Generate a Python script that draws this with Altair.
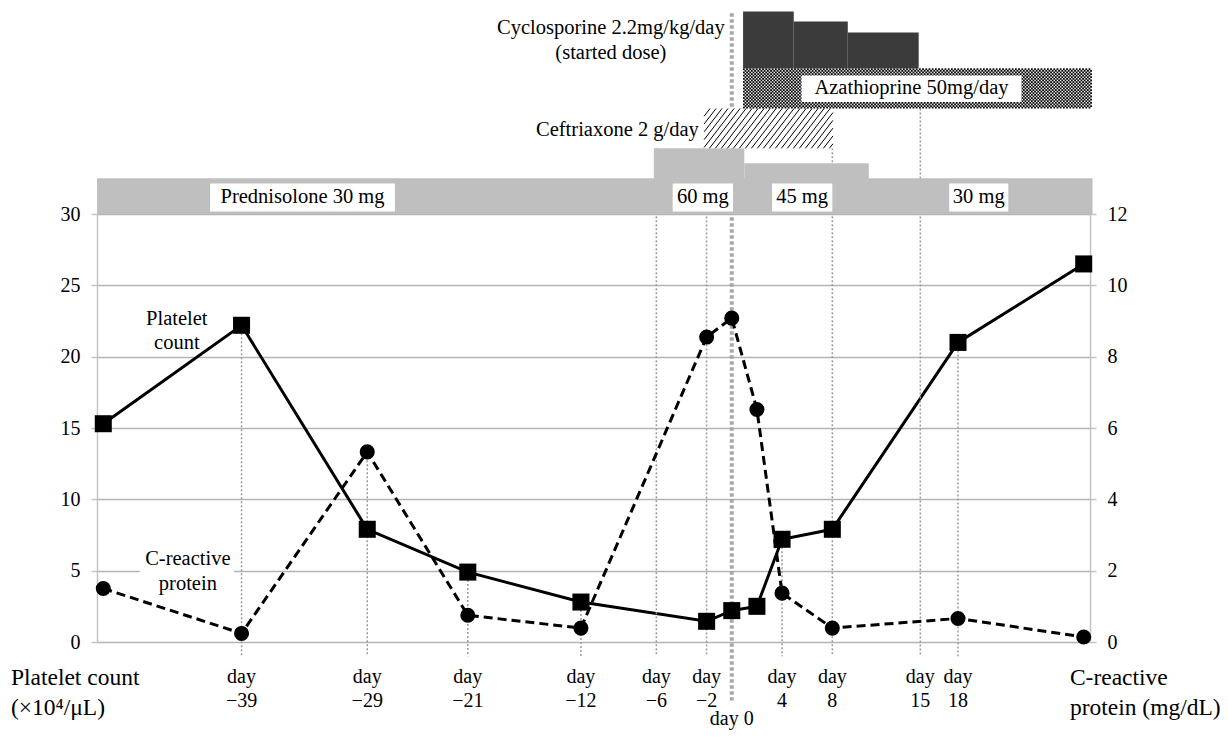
import altair as alt
import pandas as pd

FONT = "Liberation Serif"

# ---------------- values ----------------
days = [-50, -39, -29, -21, -12, -2, 0, 2, 4, 8, 18, 28]
platelet = [15.3, 22.2, 7.9, 4.9, 2.8, 1.45, 2.2, 2.5, 7.2, 7.9, 21.0, 26.5]
crp = [1.5, 0.24, 5.33, 0.75, 0.39, 8.55, 9.08, 6.52, 1.37, 0.39, 0.66, 0.14]

tick_days = [-39, -29, -21, -12, -6, -2, 4, 8, 15, 18]
tick_text = ["−39", "−29", "−21", "−12", "−6", "−2", "4", "8", "15", "18"]
guide_top = [22.2, 13.3, 4.9, 2.8, 34.6, 37.4, 7.2, 34.6, 37.4, 21.0]

# prednisolone dose bands (days, upper edge in platelet-axis units)
pred_start = [-50.5, -6.2, 1.0]
pred_end = [28.7, 1.0, 10.9]
pred_top = [32.5, 34.6, 33.55]
pred_labels = ["Prednisolone 30 mg", "60 mg", "45 mg", "30 mg"]
pred_label_from = [-41.5, -4.7, 3.2, 17.3]
pred_label_to = [-26.8, 0.1, 8.0, 22.0]

# cyclosporine steps
cyclo_start = [0.9, 4.93, 9.23]
cyclo_end = [4.93, 9.23, 14.87]
cyclo_top = [44.2, 43.5, 42.73]

# ceftriaxone and azathioprine periods
ceftri_days = [-2.2, 8.05]
aza_days = [0.9, 28.7]

# ---------------- layout helpers ----------------
XMIN, XMAX = -50.5, 28.5
W, H = 993, 428
KX = W / (XMAX - XMIN)
KY = H / 30.0

XS = alt.Scale(domain=[XMIN, XMAX], nice=False, zero=False)
YL = alt.Scale(domain=[0, 30], nice=False, zero=False)
YR = alt.Scale(domain=[0, 12], nice=False, zero=False)


def X(f):
    return alt.X(f, type="quantitative", scale=XS, axis=None)


def Y(f, axis=None):
    return alt.Y(f, type="quantitative", scale=YL, axis=axis)


def hatch(x0, x1, y0, y1, spacing=6.0, slope=1.3):
    wp, hp = (x1 - x0) * KX, (y1 - y0) * KY
    rows = []
    c = -hp / slope
    while c < wp:
        u0 = max(0.0, c)
        u1 = min(wp, c + hp / slope)
        rows.append(dict(x=x0 + u0 / KX, y=y0 + (u0 - c) * slope / KY,
                         x2=x0 + u1 / KX, y2=y0 + (u1 - c) * slope / KY))
        c += spacing
    return pd.DataFrame(rows)


def dots(x0, x1, y0, y1, step=3.2):
    wp, hp = (x1 - x0) * KX, (y1 - y0) * KY
    rows = []
    j = 0
    v = step / 4
    while v < hp:
        u = (step / 2 if j % 2 else 0) + step / 4
        while u < wp:
            rows.append(dict(x=x0 + u / KX, y=y0 + v / KY))
            u += step
        v += step / 2
        j += 1
    return pd.DataFrame(rows)


# ---------------- tables ----------------
series = pd.DataFrame({"day": days, "platelet": platelet, "crp": crp})
guides = pd.DataFrame({"day": tick_days, "top": guide_top, "bottom": [-1.0] * len(tick_days)})
day0 = pd.DataFrame({"day": [0], "top": [44.07], "bottom": [-4.1]})
bands = pd.DataFrame({"x": pred_start, "x2": pred_end, "y": [30.0] * 3, "y2": pred_top})
cyclo = pd.DataFrame({"x": cyclo_start, "x2": cyclo_end, "y": [40.2] * 3, "y2": cyclo_top})
ceftri_bg = pd.DataFrame({"x": [ceftri_days[0]], "x2": [ceftri_days[1]], "y": [34.6], "y2": [37.4]})
hatch_df = hatch(ceftri_days[0], ceftri_days[1], 34.6, 37.4)
dots_df = dots(aza_days[0], aza_days[1], 37.4, 40.2)

boxes = pd.DataFrame({
    "x": pred_label_from + [5.55, -47.1],
    "x2": pred_label_to + [23.05, -39.6],
    "y": [30.18] * 4 + [37.85, 3.2],
    "y2": [32.14] * 4 + [39.7, 6.7],
})

center_text = pd.DataFrame({
    "x": [(a + b) / 2 for a, b in zip(pred_label_from, pred_label_to)]
         + [14.3, -9.62, -9.62, -44.15, -44.15, -43.27, -43.27],
    "y": [31.17] * 4 + [38.81, 43.01, 41.26, 22.61, 20.94, 5.80, 4.04],
    "t": pred_labels + ["Azathioprine 50mg/day", "Cyclosporine 2.2mg/kg/day",
                        "(started dose)", "Platelet", "count", "C-reactive", "protein"],
})
day_text = pd.DataFrame({
    "x": tick_days + tick_days + [0],
    "y": [-2.47] * len(tick_days) + [-4.16] * len(tick_days) + [-5.4],
    "t": ["day"] * len(tick_days) + tick_text + ["day 0"],
})
right_text = pd.DataFrame({"x": [-2.62], "y": [35.86], "t": ["Ceftriaxone 2 g/day"]})
corner_text = pd.DataFrame({
    "x": [-57.35, -57.35, 26.9, 26.9],
    "y": [-2.54, -4.65, -2.54, -4.65],
    "t": ["Platelet count", "(×10⁴/μL)", "C-reactive", "protein (mg/dL)"],
})

# ---------------- layers ----------------
guide_layer = alt.Chart(guides).mark_rule(color="#9a9a9a", strokeWidth=1.5, strokeDash=[2, 2]).encode(
    x=X("day"), y=Y("top"), y2="bottom")
day0_layer = alt.Chart(day0).mark_rule(color="#a8a8a8", strokeWidth=4, strokeDash=[3.5, 2.5]).encode(
    x=X("day"), y=Y("top"), y2="bottom")
band_layer = alt.Chart(bands).mark_rect(color="#bfbfbf").encode(
    x=X("x"), x2="x2", y=Y("y"), y2="y2")
ceftri_bg_layer = alt.Chart(ceftri_bg).mark_rect(color="white").encode(
    x=X("x"), x2="x2", y=Y("y"), y2="y2")
hatch_layer = alt.Chart(hatch_df).mark_rule(color="black", strokeWidth=1.0).encode(
    x=X("x"), x2="x2", y=Y("y"), y2="y2")
dots_layer = alt.Chart(dots_df).mark_square(color="black", size=3.2, opacity=1, strokeWidth=0).encode(
    x=X("x"), y=Y("y"))
cyclo_layer = alt.Chart(cyclo).mark_rect(color="#3b3b3b").encode(
    x=X("x"), x2="x2", y=Y("y"), y2="y2")
box_layer = alt.Chart(boxes).mark_rect(color="white").encode(
    x=X("x"), x2="x2", y=Y("y"), y2="y2")
ctext_layer = alt.Chart(center_text).mark_text(
    font=FONT, fontSize=20.5, color="black", align="center", baseline="middle").encode(
    x=X("x"), y=Y("y"), text="t:N")
dtext_layer = alt.Chart(day_text).mark_text(
    font=FONT, fontSize=20, color="black", align="center", baseline="middle").encode(
    x=X("x"), y=Y("y"), text="t:N")
rtext_layer = alt.Chart(right_text).mark_text(
    font=FONT, fontSize=20.5, color="black", align="right", baseline="middle").encode(
    x=X("x"), y=Y("y"), text="t:N")
corner_layer = alt.Chart(corner_text).mark_text(
    font=FONT, fontSize=23.5, color="black", align="left", baseline="middle").encode(
    x=X("x"), y=Y("y"), text="t:N")

left_axis = alt.Axis(
    orient="left", values=[0, 5, 10, 15, 20, 25, 30], grid=True, gridColor="#b4b4b4", gridWidth=1.3,
    domainColor="#c4c4c4", domainWidth=1.5, tickColor="#c4c4c4", tickSize=6, tickWidth=1.5,
    labelFont=FONT, labelFontSize=20, labelColor="black", labelPadding=11, title=None)
right_axis = alt.Axis(
    orient="right", values=[0, 2, 4, 6, 8, 10, 12], grid=False,
    domainColor="#c4c4c4", domainWidth=1.5, tickColor="#c4c4c4", tickSize=6, tickWidth=1.5,
    labelFont=FONT, labelFontSize=20, labelColor="black", labelPadding=11, title=None)

plt_line = alt.Chart(series).mark_line(color="black", strokeWidth=3).encode(
    x=X("day"), y=Y("platelet", axis=left_axis))
plt_pts = alt.Chart(series).mark_square(color="black", size=290, opacity=1).encode(
    x=X("day"), y=Y("platelet"))

crp_line = alt.Chart(series).mark_line(color="black", strokeWidth=3, strokeDash=[9, 5]).encode(
    x=X("day"), y=alt.Y("crp", type="quantitative", scale=YR, axis=right_axis))
crp_pts = alt.Chart(series).mark_circle(color="black", size=227, opacity=1).encode(
    x=X("day"), y=alt.Y("crp", type="quantitative", scale=YR, axis=None))

chart = alt.layer(
    plt_line,
    guide_layer, day0_layer, band_layer, ceftri_bg_layer, hatch_layer, dots_layer,
    cyclo_layer, box_layer, ctext_layer, dtext_layer, rtext_layer, corner_layer,
    plt_pts, crp_line, crp_pts,
).resolve_scale(y="independent").properties(
    width=W, height=H,
    autosize=alt.AutoSizeParams(type="none"),
    padding={"left": 89, "top": 206, "right": 130, "bottom": 103},
    background="white",
).configure_view(stroke=None)

chart.save("out.html", embed_options={"renderer": "svg", "actions": False})
